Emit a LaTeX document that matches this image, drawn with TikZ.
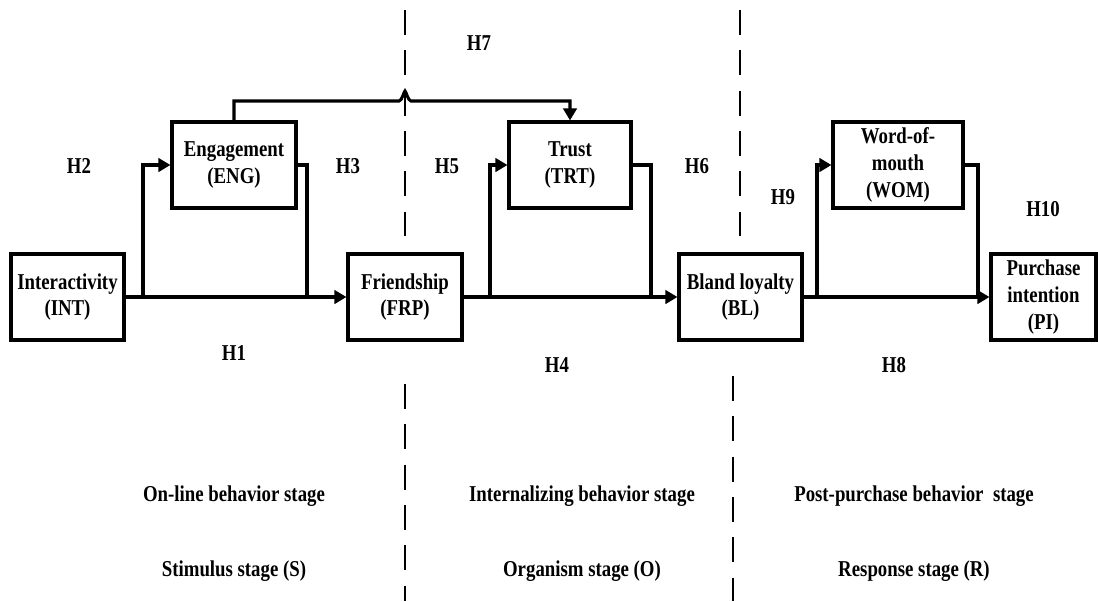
\documentclass[tikz,border=0pt]{standalone}
\usepackage{fontspec}
\setmainfont{Liberation Serif}[FakeStretch=0.83]
\usetikzlibrary{arrows.meta}
\begin{document}
\begin{tikzpicture}[x=0.75pt,y=-0.75pt,
 txt/.style={font=\fontsize{17}{20}\selectfont\bfseries, inner sep=0pt},
 bx/.style 2 args={draw, line width=2.3pt, fill=white, minimum width=#1*0.75pt, minimum height=#2*0.75pt, inner sep=0pt, align=center, font=\fontsize{17}{20}\selectfont\bfseries},
 ln/.style={line width=2.3pt},
 arr/.style={line width=2.3pt, -{Triangle[length=9pt,width=10pt]}},
 dsh/.style={line width=2.2pt, dash pattern=on 18.75pt off 11.5pt},
]
\useasboundingbox (0,0) rectangle (1098,601);

% stage separators
\coordinate (d1a) at (405,10);  \coordinate (d1b) at (405,236);
\coordinate (d1c) at (405,384); \coordinate (d1d) at (405,601);
\coordinate (d2a) at (740,10);  \coordinate (d2b) at (740,236);
\coordinate (d2c) at (733,376); \coordinate (d2d) at (733,601);
\draw[dsh] (d1a) -- (d1b);
\draw[dsh] (d1c) -- (d1d);
\draw[dsh] (d2a) -- (d2b);
\draw[dsh] (d2c) -- (d2d);

% boxes
\node[bx={113}{86}] (INT) at (67.5,297) {Interactivity\\(INT)};
\node[bx={124}{86}] (ENG) at (234,165) {Engagement\\(ENG)};
\node[bx={114}{86}] (FRP) at (405,297) {Friendship\\(FRP)};
\node[bx={122}{86}] (TRT) at (570,165) {Trust\\(TRT)};
\node[bx={123}{86}] (BL)  at (740.5,297) {Bland loyalty\\(BL)};
\node[bx={130}{86}] (WOM) at (898,165) {Word-of-\\mouth\\(WOM)};
\node[bx={105}{86}] (PI)  at (1043.5,297) {Purchase\\intention\\(PI)};

% junction coordinates
\coordinate (b1) at (143,297);
\coordinate (j1) at (307,297);
\coordinate (b2) at (490,297);
\coordinate (j2) at (651,297);
\coordinate (b3) at (817,297);
\coordinate (j3) at (978,297);
\coordinate (h7a) at (399,101);
\coordinate (h7b) at (411,101);

% connectors
\draw[arr] (INT.east) -- (FRP.west);
\draw[arr] (b1) |- (ENG.west);
\draw[ln] (ENG.east) -| (j1);
\draw[arr] (FRP.east) -- (BL.west);
\draw[arr] (b2) |- (TRT.west);
\draw[ln] (TRT.east) -| (j2);
\draw[arr] (BL.east) -- (PI.west);
\draw[arr] (b3) |- (WOM.west);
\draw[ln] (WOM.east) -| (j3);
\draw[arr] (ENG.north) |- (h7a) .. controls (402,101) and (404,91) .. (405,91) .. controls (406,91) and (408,101) .. (h7b) -| (TRT.north);

% hypothesis labels
\node[txt] (H1) at (234,353) {H1};
\node[txt] (H2) at (79,166) {H2};
\node[txt] (H3) at (348,166) {H3};
\node[txt] (H4) at (557,365) {H4};
\node[txt] (H5) at (447,166) {H5};
\node[txt] (H6) at (697,166) {H6};
\node[txt] (H7) at (479,43) {H7};
\node[txt] (H8) at (894,365) {H8};
\node[txt] (H9) at (783,197) {H9};
\node[txt] (H10) at (1043,209) {H10};

% stage labels
\node[txt] (s1) at (234,496) {On-line behavior stage};
\node[txt] (s2) at (582,496) {Internalizing behavior stage};
\node[txt] (s3) at (914,496) {Post-purchase behavior\ \ stage};
\node[txt] (t1) at (234,571) {Stimulus stage (S)};
\node[txt] (t2) at (582,571) {Organism stage (O)};
\node[txt] (t3) at (914,571) {Response stage (R)};
\end{tikzpicture}
\end{document}
